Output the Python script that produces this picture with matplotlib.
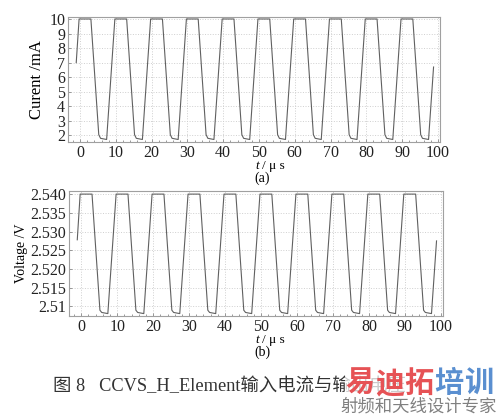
import matplotlib.pyplot as plt
from matplotlib.patches import Rectangle
from matplotlib.ticker import MultipleLocator, FixedLocator

# breakpoints of the waveforms (time in us)
t_us = [-1.1,
        -0.3, 3.0, 5.2, 5.7, 7.4,
        9.7, 13.0, 15.2, 15.7, 17.4,
        19.7, 23.0, 25.2, 25.7, 27.4,
        29.7, 33.0, 35.2, 35.7, 37.4,
        39.7, 43.0, 45.2, 45.7, 47.4,
        49.7, 53.0, 55.2, 55.7, 57.4,
        59.7, 63.0, 65.2, 65.7, 67.4,
        69.7, 73.0, 75.2, 75.7, 77.4,
        79.7, 83.0, 85.2, 85.7, 87.4,
        89.7, 93.0, 95.2, 95.7, 97.4,
        98.8]

current_mA = [7.0,
              10, 10, 2.05, 1.8, 1.72,
              10, 10, 2.05, 1.8, 1.72,
              10, 10, 2.05, 1.8, 1.72,
              10, 10, 2.05, 1.8, 1.72,
              10, 10, 2.05, 1.8, 1.72,
              10, 10, 2.05, 1.8, 1.72,
              10, 10, 2.05, 1.8, 1.72,
              10, 10, 2.05, 1.8, 1.72,
              10, 10, 2.05, 1.8, 1.72,
              10, 10, 2.05, 1.8, 1.72,
              6.7]

voltage_V = [2.5278,
             2.540, 2.540, 2.5090, 2.5084, 2.5081,
             2.540, 2.540, 2.5090, 2.5084, 2.5081,
             2.540, 2.540, 2.5090, 2.5084, 2.5081,
             2.540, 2.540, 2.5090, 2.5084, 2.5081,
             2.540, 2.540, 2.5090, 2.5084, 2.5081,
             2.540, 2.540, 2.5090, 2.5084, 2.5081,
             2.540, 2.540, 2.5090, 2.5084, 2.5081,
             2.540, 2.540, 2.5090, 2.5084, 2.5081,
             2.540, 2.540, 2.5090, 2.5084, 2.5081,
             2.540, 2.540, 2.5090, 2.5084, 2.5081,
             2.5275]

x_ticks = [0, 10, 20, 30, 40, 50, 60, 70, 80, 90, 100]
cur_ticks = [2, 3, 4, 5, 6, 7, 8, 9, 10]
volt_ticks = [2.51, 2.515, 2.520, 2.525, 2.530, 2.535, 2.540]
volt_labels = ['2.51', '2.515', '2.520', '2.525', '2.530', '2.535', '2.540']

serif = ['Liberation Serif', 'Noto Sans CJK SC']
plt.rcParams['font.family'] = serif

fig = plt.figure(figsize=(5, 4.2), dpi=100)
ax1 = fig.add_axes([0.136, 0.662, 0.744, 0.298])
ax2 = fig.add_axes([0.138, 0.248, 0.748, 0.297])

line_col = '#606060'
for ax in (ax1, ax2):
    ax.set_xlim(-3.4, 100.6)
    ax.xaxis.set_major_locator(FixedLocator(x_ticks))
    ax.xaxis.set_minor_locator(MultipleLocator(2))
    ax.grid(True, which='major', color='#cfcfcf', linestyle=':', linewidth=0.7)
    for s in ax.spines.values():
        s.set_color('#a0a0a0')
        s.set_linewidth(0.8)
    ax.tick_params(which='both', direction='in', colors='#888888', labelcolor='#222222',
                   labelsize=11.5, length=2, width=0.6, pad=2)
    ax.tick_params(which='minor', length=1.5)

ax1.plot(t_us, current_mA, color=line_col, linewidth=0.8)
ax1.set_ylim(1.55, 10.15)
ax1.set_yticks(cur_ticks)
ax1.set_ylabel('Curent /mA', fontsize=12, labelpad=3)

ax2.plot(t_us, voltage_V, color=line_col, linewidth=0.8)
ax2.set_ylim(2.5075, 2.5408)
ax2.set_yticks(volt_ticks)
ax2.set_yticklabels(volt_labels)
ax2.set_ylabel('Voltage /V', fontsize=10, labelpad=2)

# axis captions under each panel
for y_u, y_p, tag in [(166, 178, '(a)'), (340, 352, '(b)')]:
    fig.text(255 / 500, 1 - y_u / 420, 't', ha='left', va='center',
             fontsize=9.5, style='italic')
    fig.text(262 / 500, 1 - y_u / 420, '/ μ s', ha='left', va='center', fontsize=9.5)
    fig.text(254 / 500, 1 - y_p / 420, tag, ha='left', va='center', fontsize=10)

# figure caption
fig.text(53 / 500, 1 - 386 / 420, '图 8   CCVS_H_Element输入电流与输出电压',
         ha='left', va='center', fontsize=13.2, color='#333333', family=serif,
         zorder=1)

# watermark, partly covering the end of the caption
fig.patches.append(Rectangle((345 / 500, 1 - 395 / 420), 152 / 500, 25 / 420,
                             transform=fig.transFigure, facecolor='white',
                             edgecolor='none', alpha=0.75, zorder=2))
marks = ['易', '迪', '拓', '培', '训']
mark_cols = ['#e65255', '#e65255', '#e65255', '#5a8fd0', '#5a8fd0']
for i, (ch, c) in enumerate(zip(marks, mark_cols)):
    fig.text((360 + 29.6 * i) / 500, 1 - 383 / 420, ch, ha='center', va='center',
             fontsize=21, color=c, fontweight='bold', family='Noto Sans CJK SC',
             zorder=3)
fig.text(497 / 500, 1 - 407 / 420, '射频和天线设计专家', ha='right', va='center',
         fontsize=12.5, color='#808080', family='Noto Sans CJK SC')

plt.savefig('out.png', dpi=100)
